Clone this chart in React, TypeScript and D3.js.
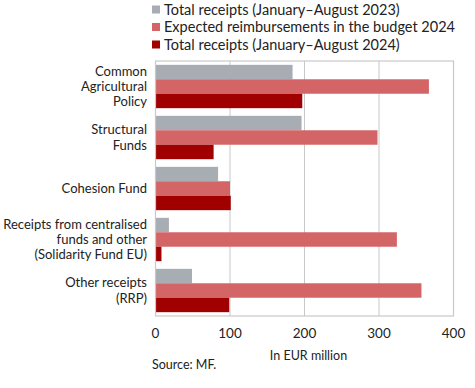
import { useEffect, useRef } from "react";
import * as d3 from "d3";

// categories (multi-line labels), top to bottom
const categories = [
  ["Common", "Agricultural", "Policy"],
  ["Structural", "Funds"],
  ["Cohesion Fund"],
  ["Receipts from centralised", "funds and other", "(Solidarity Fund EU)"],
  ["Other receipts", "(RRP)"],
];

const seriesNames = [
  "Total receipts (January\u2013August 2023)",
  "Expected reimbursements in the budget 2024",
  "Total receipts (January\u2013August 2024)",
];

const receipts2023 = [184, 196, 84, 18, 49];
const budget2024 = [367, 298, 100, 324, 357];
const receipts2024 = [197, 78, 101, 8, 99];

const xTicks = [0, 100, 200, 300, 400];

const COLORS = ["#a7adb3", "#d46566", "#a00000"];
const W = 475;
const H = 388;
const FONT = "Lato, 'Open Sans', sans-serif";

export default function App() {
  const svgRef = useRef<SVGSVGElement | null>(null);

  useEffect(() => {
    if (!svgRef.current) return;
    const svg = d3.select(svgRef.current);
    svg.selectAll("*").remove();

    const left = 155.5;
    const right = 453.5;
    const top = 61;
    const bottom = 316;

    const x = d3.scaleLinear().domain([0, 400]).range([left, right]);
    const y = d3
      .scaleBand<number>()
      .domain(d3.range(categories.length))
      .range([top, bottom])
      .paddingInner(0.15)
      .paddingOuter(0.075);
    const sub = d3.scaleBand<number>().domain([0, 1, 2]).range([0, y.bandwidth()]);

    const series = [receipts2023, budget2024, receipts2024];

    // grid lines
    svg
      .append("g")
      .selectAll("line")
      .data(xTicks.slice(1, -1))
      .join("line")
      .attr("x1", (d) => x(d))
      .attr("x2", (d) => x(d))
      .attr("y1", top)
      .attr("y2", bottom)
      .attr("stroke", "#c8c8c8")
      .attr("stroke-width", 1);

    // bars
    series.forEach((vals, si) => {
      svg
        .append("g")
        .selectAll("rect")
        .data(vals)
        .join("rect")
        .attr("x", x(0))
        .attr("y", (_, i) => (y(i) as number) + (sub(si) as number))
        .attr("width", (d) => x(d) - x(0))
        .attr("height", sub.bandwidth())
        .attr("fill", COLORS[si]);
    });

    // frame
    svg
      .append("rect")
      .attr("x", left)
      .attr("y", top)
      .attr("width", right - left)
      .attr("height", bottom - top)
      .attr("fill", "none")
      .attr("stroke", "#c8c8c8")
      .attr("stroke-width", 1.2);

    // x tick labels
    svg
      .append("g")
      .selectAll("text")
      .data(xTicks)
      .join("text")
      .attr("x", (d) => x(d))
      .attr("y", 338)
      .attr("text-anchor", "middle")
      .attr("font-family", FONT)
      .attr("font-size", 13.5)
      .attr("fill", "#222")
      .text((d) => d);

    svg
      .append("text")
      .attr("x", (left + right) / 2 + 4)
      .attr("y", 360)
      .attr("text-anchor", "middle")
      .attr("font-family", FONT)
      .attr("font-size", 12.5)
      .attr("fill", "#222")
      .text("In EUR million");

    svg
      .append("text")
      .attr("x", 152)
      .attr("y", 369)
      .attr("font-family", FONT)
      .attr("font-size", 12.5)
      .attr("fill", "#222")
      .text("Source: MF.");

    // category labels
    const lineH = 15.3;
    categories.forEach((lines, i) => {
      const cy = (y(i) as number) + y.bandwidth() / 2;
      const t = svg
        .append("text")
        .attr("text-anchor", "end")
        .attr("font-family", FONT)
        .attr("font-size", 13)
        .attr("fill", "#222");
      lines.forEach((ln, k) => {
        t.append("tspan")
          .attr("x", 147)
          .attr("y", cy + (k - (lines.length - 1) / 2) * lineH + 4.5)
          .text(ln);
      });
    });

    // legend
    const lg = svg.append("g");
    seriesNames.forEach((name, i) => {
      const cy = 9.5 + i * 17.5;
      lg.append("rect")
        .attr("x", 152)
        .attr("y", cy - 4)
        .attr("width", 8)
        .attr("height", 8)
        .attr("fill", COLORS[i]);
      lg.append("text")
        .attr("x", 164)
        .attr("y", cy + 5)
        .attr("font-family", FONT)
        .attr("font-size", 14.5)
        .attr("fill", "#222")
        .text(name);
    });
  }, []);

  return (
    <svg
      ref={svgRef}
      width={W}
      height={H}
      style={{ position: "absolute", left: 0, top: 0, background: "#fff" }}
    />
  );
}
